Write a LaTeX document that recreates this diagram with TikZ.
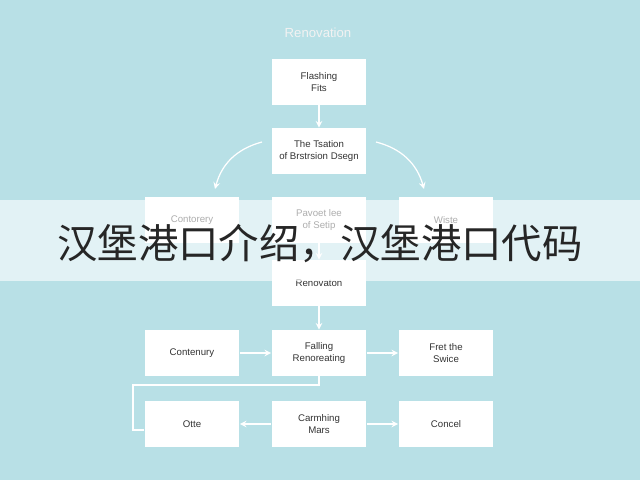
\documentclass[tikz,border=0pt]{standalone}
\usepackage{fontspec}
\setmainfont{Liberation Sans}
\newfontfamily\cjk{Noto Sans CJK SC}
\usetikzlibrary{positioning}
\definecolor{bgblue}{HTML}{B8E0E6}
\definecolor{boxtext}{HTML}{333333}
\tikzstyle{stage}=[rectangle, fill=white, draw=none, minimum width = 1.9cm, minimum height = 0.92cm, align=center, font=\fontsize{5.5}{6.5}\selectfont, text=boxtext]
\tikzset{>=stealth}

\begin{document}
\begin{tikzpicture}[x=0.02cm, y=-0.02cm]
        \tikzstyle{link}=[->, draw=white, line width=0.7pt]

        % Background
        \fill [bgblue] (0, 0) rectangle (640, 480);
        \useasboundingbox (0, 0) rectangle (640, 480);

        % Title
        \node at (318, 33) [text=white!90!gray, font=\fontsize{7.5}{9}\selectfont] (title) {Renovation};

        % Top column
        \node at (319, 82) [stage] (flash) {Flashing\\Fits};
        \node at (319, 151) [stage] (design) {The Tsation\\of Brstrsion Dsegn};

        % Third row
        \node at (192, 220) [stage] (cont_a) {Contorery};
        \node at (319, 220) [stage] (setip) {Pavoet lee\\of Setip};
        \node at (446, 220) [stage] (waste) {Wiste};
        \node at (319, 283) [stage] (renov) {Renovaton};

        % Fourth row
        \node at (192, 353) [stage] (cont_b) {Contenury};
        \node at (319, 353) [stage] (fall) {Falling\\Renoreating};
        \node at (446, 353) [stage] (fret) {Fret the\\Swice};

        % Fifth row
        \node at (192, 424) [stage] (otte) {Otte};
        \node at (319, 424) [stage] (mars) {Carmhing\\Mars};
        \node at (446, 424) [stage] (cancel) {Concel};

        % Curve ends
        \coordinate (dw) at (262, 142);
        \coordinate (ca) at (215, 189);
        \coordinate (de) at (376, 142);
        \coordinate (wa) at (424, 189);
        \coordinate (bend) at (133, 385);

        % Links
        \draw [link] (flash) -- (design);
        \draw [link] (dw) to [bend right=30] (ca);
        \draw [link] (de) to [bend left=30] (wa);
        \draw [link] (setip) -- (renov);
        \draw [link] (renov) -- (fall);
        \draw [link] (cont_b) -- (fall);
        \draw [link] (fall) -- (fret);
        \draw [link] (mars) -- (otte);
        \draw [link] (mars) -- (cancel);
        \draw [draw=white, line width=0.7pt] (fall.south) |- (bend) |- ([yshift=-0.12cm]otte.west);

        % Banner
        \fill [white, opacity=0.6] (0, 200) rectangle (640, 281);
        \node at (320, 244) [font=\cjk\fontsize{23}{26}\selectfont, text=black!85] (banner) {汉堡港口介绍，汉堡港口代码};
\end{tikzpicture}
\end{document}
